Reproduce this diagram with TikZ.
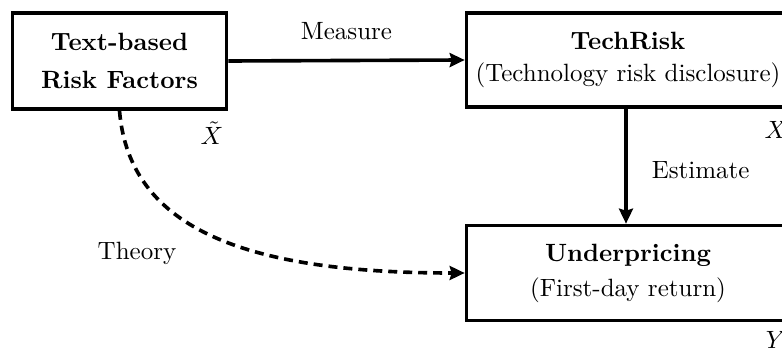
\documentclass[tikz,border=0pt]{standalone}
\usetikzlibrary{arrows.meta}
\begin{document}
\begin{tikzpicture}[x=0.4pt,y=-0.4pt,
  every node/.style={font=\fontsize{10}{13}\selectfont},
  box/.style={draw, line width=1.45pt, align=center, inner sep=0pt},
  link/.style={line width=1.45pt, -{Stealth[length=6pt,width=5.6pt,inset=0.8pt]}},
  theorylink/.style={link, dash pattern=on 3.6pt off 2.4pt},
  lbl/.style={inner sep=0pt}]
  \useasboundingbox (0,0) rectangle (782,352);

  % boxes
  \node[box, minimum width=85.6pt, minimum height=38.4pt] (trf) at (119.5,61)
    {\textbf{Text-based}\\[2pt]\textbf{Risk Factors}};
  \node[box, minimum width=129.2pt, minimum height=37.6pt] (tech) at (628,60)
    {\textbf{TechRisk}\\(Technology risk disclosure)};
  \node[box, minimum width=129.2pt, minimum height=38pt] (under) at (628,273)
    {\textbf{Underpricing}\\[1pt](First-day return)};

  % variable names
  \node[lbl] (xt) at (212,133) {$\tilde{X}$};
  \node[lbl] (xv) at (776,130) {$X$};
  \node[lbl] (yv) at (776,340) {$Y$};

  % connectors
  \draw[link] (trf.east) -- node[lbl, above=7.6pt] (measure) {Measure} (tech.west);
  \draw[link] (tech.south -| 626,0) -- node[lbl, right=9.6pt, yshift=-1.6pt] (estimate) {Estimate} (under.north -| 626,0);
  \draw[theorylink] (trf.south) .. controls +(10,120) and +(-215,0) .. (under.west);

  \node[lbl] (theory) at (137,253) {Theory};
\end{tikzpicture}
\end{document}
